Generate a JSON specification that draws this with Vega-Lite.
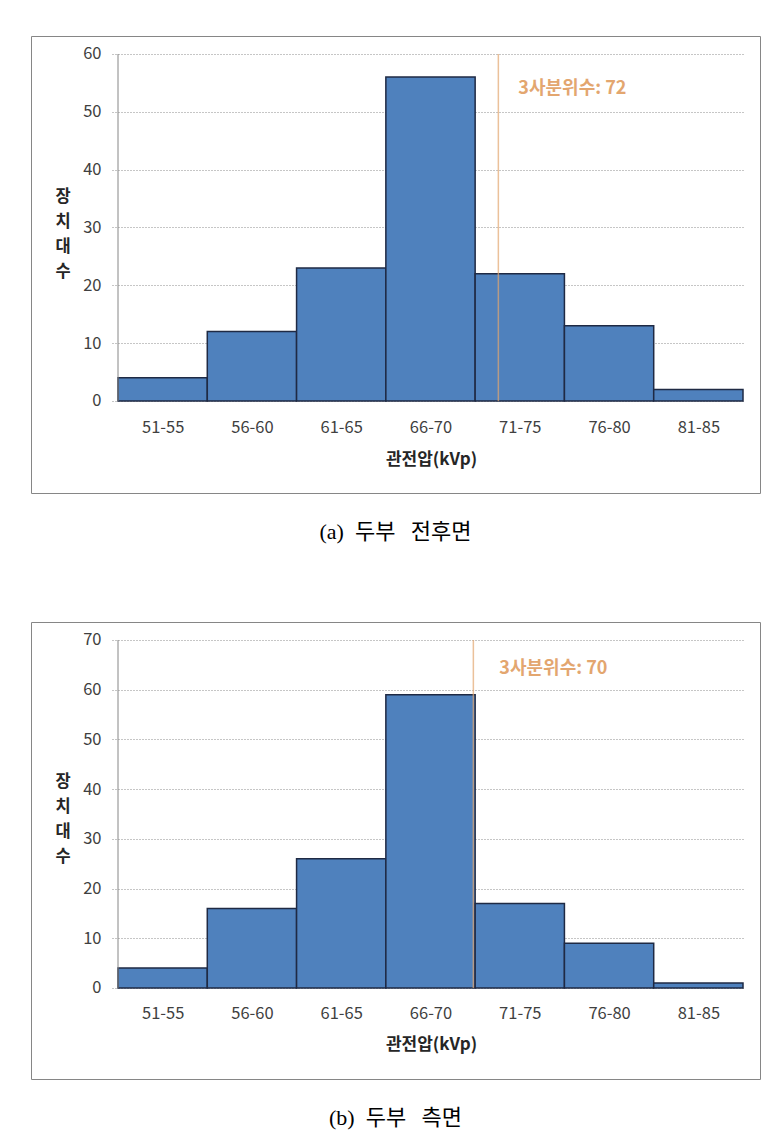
{
  "$schema": "https://vega.github.io/schema/vega-lite/v6.json",
  "padding": {"left": 30, "top": 35, "right": 0, "bottom": 0},
  "background": "white",
  "spacing": 77,
  "config": {
    "view": {"stroke": "#868686", "strokeWidth": 1},
    "font": "Noto Sans CJK KR"
  },
  "datasets": {
    "a": [
      {"bin": "51-55", "lo": 50.5, "hi": 55.5, "count": 4},
      {"bin": "56-60", "lo": 55.5, "hi": 60.5, "count": 12},
      {"bin": "61-65", "lo": 60.5, "hi": 65.5, "count": 23},
      {"bin": "66-70", "lo": 65.5, "hi": 70.5, "count": 56},
      {"bin": "71-75", "lo": 70.5, "hi": 75.5, "count": 22},
      {"bin": "76-80", "lo": 75.5, "hi": 80.5, "count": 13},
      {"bin": "81-85", "lo": 80.5, "hi": 85.5, "count": 2}
    ],
    "b": [
      {"bin": "51-55", "lo": 50.5, "hi": 55.5, "count": 4},
      {"bin": "56-60", "lo": 55.5, "hi": 60.5, "count": 16},
      {"bin": "61-65", "lo": 60.5, "hi": 65.5, "count": 26},
      {"bin": "66-70", "lo": 65.5, "hi": 70.5, "count": 59},
      {"bin": "71-75", "lo": 70.5, "hi": 75.5, "count": 17},
      {"bin": "76-80", "lo": 75.5, "hi": 80.5, "count": 9},
      {"bin": "81-85", "lo": 80.5, "hi": 85.5, "count": 1}
    ],
    "qa": [{"q": 71.8, "label": "3사분위수: 72"}],
    "qb": [{"q": 70.4, "label": "3사분위수: 70"}]
  },
  "vconcat": [
    {
      "width": 729,
      "height": 457,
      "title": {"text": "(a)\u2002두부\u2002\u2009전후면", "orient": "bottom", "offset": 39, "baseline": "middle", "fontSize": 22, "font": "Liberation Serif, Noto Sans CJK KR", "fontWeight": "normal", "anchor": "middle", "color": "#000000"},
      "layer": [
        {
          "data": {"name": "a"},
          "mark": {"type": "bar", "fill": "#4F81BD", "stroke": "#1F2A44", "strokeWidth": 1.5},
          "encoding": {
            "x": {"field": "lo", "type": "quantitative",
              "scale": {"domain": [45.628, 86.452], "nice": false, "zero": false},
              "axis": {"values": [53, 58, 63, 68, 73, 78, 83], "labelExpr": "(datum.value-2)+'-'+(datum.value+2)", "offset": -92, "domain": false, "ticks": false, "tickSize": 0, "grid": false, "labelFlush": false, "labelOverlap": false, "labelPadding": 26.7, "labelBaseline": "middle", "labelFontSize": 16.5, "labelColor": "#404040", "title": "관전압(kVp)", "titleFontSize": 17, "titleFontWeight": "bold", "titleColor": "#262626", "titleX": 400, "titleY": 58, "titleAlign": "center", "titleBaseline": "middle", "zindex": 0}},
            "x2": {"field": "hi"},
            "y": {"field": "count", "type": "quantitative",
              "scale": {"domain": [-15.91, 63.11], "nice": false, "zero": false},
              "axis": {"values": [0, 10, 20, 30, 40, 50, 60], "offset": -712, "domain": false, "grid": false, "tickSize": 631, "tickColor": "#8C8C8C", "tickDash": [1, 2], "tickWidth": 1, "labelPadding": 11, "labelFontSize": 16.5, "labelColor": "#404040", "labelBaseline": "middle", "title": ["장", "치", "대", "수"], "titleAngle": 0, "titleFontSize": 16.5, "titleFontWeight": "bold", "titleColor": "#262626", "titleLineHeight": 25, "titleAlign": "center", "titleBaseline": "middle", "titleX": -680.3, "titleY": 160, "zindex": 0}},
            "y2": {"datum": 0}
          }
        },
        {
          "data": {"name": "qa"},
          "mark": {"type": "rule", "color": "#868686", "strokeWidth": 1},
          "encoding": {"x": {"datum": 50.5}, "y": {"datum": 0}, "y2": {"datum": 60}}
        },
        {
          "data": {"name": "qa"},
          "mark": {"type": "rule", "color": "#E3A66F", "strokeWidth": 1.5, "opacity": 0.7},
          "encoding": {"x": {"field": "q", "type": "quantitative"}, "y": {"datum": 0}, "y2": {"datum": 60}}
        },
        {
          "data": {"name": "qa"},
          "mark": {"type": "text", "align": "left", "baseline": "middle", "dx": 20, "fontSize": 18, "fontWeight": "bold", "color": "#E3A66F"},
          "encoding": {"x": {"field": "q", "type": "quantitative"}, "y": {"datum": 54}, "text": {"field": "label"}}
        }
      ]
    },
    {
      "width": 729,
      "height": 457,
      "title": {"text": "(b)\u2002두부\u2002\u2009측면", "orient": "bottom", "offset": 39, "baseline": "middle", "fontSize": 22, "font": "Liberation Serif, Noto Sans CJK KR", "fontWeight": "normal", "anchor": "middle", "color": "#000000"},
      "layer": [
        {
          "data": {"name": "b"},
          "mark": {"type": "bar", "fill": "#4F81BD", "stroke": "#1F2A44", "strokeWidth": 1.5},
          "encoding": {
            "x": {"field": "lo", "type": "quantitative",
              "scale": {"domain": [45.628, 86.452], "nice": false, "zero": false},
              "axis": {"values": [53, 58, 63, 68, 73, 78, 83], "labelExpr": "(datum.value-2)+'-'+(datum.value+2)", "offset": -91, "domain": false, "ticks": false, "tickSize": 0, "grid": false, "labelFlush": false, "labelOverlap": false, "labelPadding": 25, "labelBaseline": "middle", "labelFontSize": 16.5, "labelColor": "#404040", "title": "관전압(kVp)", "titleFontSize": 17, "titleFontWeight": "bold", "titleColor": "#262626", "titleX": 400, "titleY": 56, "titleAlign": "center", "titleBaseline": "middle", "zindex": 0}},
            "x2": {"field": "hi"},
            "y": {"field": "count", "type": "quantitative",
              "scale": {"domain": [-18.31, 73.62], "nice": false, "zero": false},
              "axis": {"values": [0, 10, 20, 30, 40, 50, 60, 70], "offset": -712, "domain": false, "grid": false, "tickSize": 631, "tickColor": "#8C8C8C", "tickDash": [1, 2], "tickWidth": 1, "labelPadding": 11, "labelFontSize": 16.5, "labelColor": "#404040", "labelBaseline": "middle", "title": ["장", "치", "대", "수"], "titleAngle": 0, "titleFontSize": 16.5, "titleFontWeight": "bold", "titleColor": "#262626", "titleLineHeight": 25, "titleAlign": "center", "titleBaseline": "middle", "titleX": -680.3, "titleY": 159, "zindex": 0}},
            "y2": {"datum": 0}
          }
        },
        {
          "data": {"name": "qb"},
          "mark": {"type": "rule", "color": "#868686", "strokeWidth": 1},
          "encoding": {"x": {"datum": 50.5}, "y": {"datum": 0}, "y2": {"datum": 70}}
        },
        {
          "data": {"name": "qb"},
          "mark": {"type": "rule", "color": "#E3A66F", "strokeWidth": 1.5, "opacity": 0.7},
          "encoding": {"x": {"field": "q", "type": "quantitative"}, "y": {"datum": 0}, "y2": {"datum": 70}}
        },
        {
          "data": {"name": "qb"},
          "mark": {"type": "text", "align": "left", "baseline": "middle", "dx": 26, "fontSize": 18, "fontWeight": "bold", "color": "#E3A66F"},
          "encoding": {"x": {"field": "q", "type": "quantitative"}, "y": {"datum": 64.2}, "text": {"field": "label"}}
        }
      ]
    }
  ]
}
